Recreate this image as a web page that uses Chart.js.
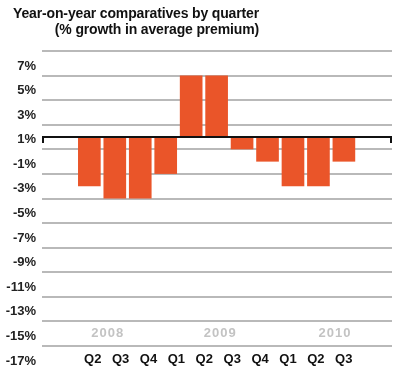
<!DOCTYPE html>
<html><head><meta charset="utf-8">
<script src="https://cdn.jsdelivr.net/npm/chart.js@4"></script>
<style>
html,body{margin:0;padding:0;background:#fff;}
#wrap{position:relative;width:400px;height:373px;overflow:hidden;}
#title{position:absolute;left:0;top:5px;width:259px;text-align:right;font:bold 14px "Liberation Sans",Arial,sans-serif;line-height:16px;color:#111;letter-spacing:-0.15px;}
canvas{position:absolute;left:0;top:0;}
</style></head><body>
<div id="wrap"><canvas id="c" width="400" height="373"></canvas>
<div id="title">Year-on-year comparatives by quarter<br>(% growth in average premium)</div></div>
<script>
// ---- data ----
const quarterLabels = ['Q2','Q3','Q4','Q1','Q2','Q3','Q4','Q1','Q2','Q3'];
const yearLabels = ['2008','2009','2010'];
const growthValues = [-4,-5,-5,-3,5,5,-1,-2,-4,-4,-2];
const yTickValues = [7,5,3,1,-1,-3,-5,-7,-9,-11,-13,-15,-17];

// ---- layout helpers ----
const yearAnchors = [0.72, 5.14, 9.65]; // positions on the bar axis
const FONT = '"Liberation Sans", Arial, sans-serif';

const baselinePlugin = {
  id: 'baseline',
  afterDatasetsDraw(chart) {
    const {ctx, chartArea, scales} = chart;
    const y0 = Math.round(scales.y.getPixelForValue(0));
    ctx.save();
    ctx.strokeStyle = '#111';
    ctx.lineWidth = 2;
    ctx.beginPath();
    ctx.moveTo(chartArea.left + 1, y0 + 6);
    ctx.lineTo(chartArea.left + 1, y0);
    ctx.lineTo(chartArea.right - 1, y0);
    ctx.lineTo(chartArea.right - 1, y0 + 6);
    ctx.stroke();
    // year labels
    ctx.font = 'bold 13px ' + FONT;
    ctx.fillStyle = '#c3c3c3';
    ctx.textAlign = 'center';
    ctx.textBaseline = 'middle';
    try { ctx.letterSpacing = '1px'; } catch (e) {}
    const yy = scales.y.getPixelForValue(-16);
    yearLabels.forEach((t, i) => {
      ctx.fillText(t, scales.x.getPixelForValue(yearAnchors[i]), yy);
    });
    ctx.restore();
  }
};

new Chart(document.getElementById('c'), {
  type: 'bar',
  data: {
    datasets: [{
      data: growthValues.map((v, i) => ({x: i, y: v})),
      backgroundColor: '#ea5529',
      borderWidth: 0,
      barPercentage: 0.89,
      categoryPercentage: 1.0,
      xAxisID: 'x',
      yAxisID: 'y'
    }]
  },
  options: {
    responsive: false,
    animation: false,
    devicePixelRatio: 1,
    layout: {padding: {top: 51, right: 8, left: 0, bottom: 0}},
    plugins: {legend: {display: false}, tooltip: {enabled: false}, title: {display: false}},
    scales: {
      x: {
        type: 'linear',
        display: false,
        min: -1.86,
        max: 11.89,
        offset: false,
        grid: {offset: false}
      },
      x2: {
        type: 'linear',
        position: 'bottom',
        min: -1.817,
        max: 10.728,
        offset: false,
        grid: {display: false, drawTicks: false},
        border: {display: false},
        afterBuildTicks(scale) { scale.ticks = quarterLabels.map((_, i) => ({value: i})); },
        afterFit(scale) { scale.height = 27; },
        ticks: {
          autoSkip: false,
          maxRotation: 0,
          padding: 6,
          color: '#111',
          font: {family: FONT, size: 13, weight: 'bold'},
          callback: (v) => quarterLabels[v]
        }
      },
      y: {
        type: 'linear',
        min: -17,
        max: 7,
        afterBuildTicks(scale) { scale.ticks = yTickValues.map(v => ({value: v})); },
        afterFit(scale) { scale.width = 42; },
        grid: {color: '#b9b9b9', lineWidth: 2, drawTicks: false},
        border: {display: false},
        ticks: {
          padding: 6,
          labelOffset: 15,
          color: '#222',
          font: {family: FONT, size: 13, weight: 'bold'},
          callback: (v) => v + '%'
        }
      }
    }
  },
  plugins: [baselinePlugin]
});
</script>
</body></html>
